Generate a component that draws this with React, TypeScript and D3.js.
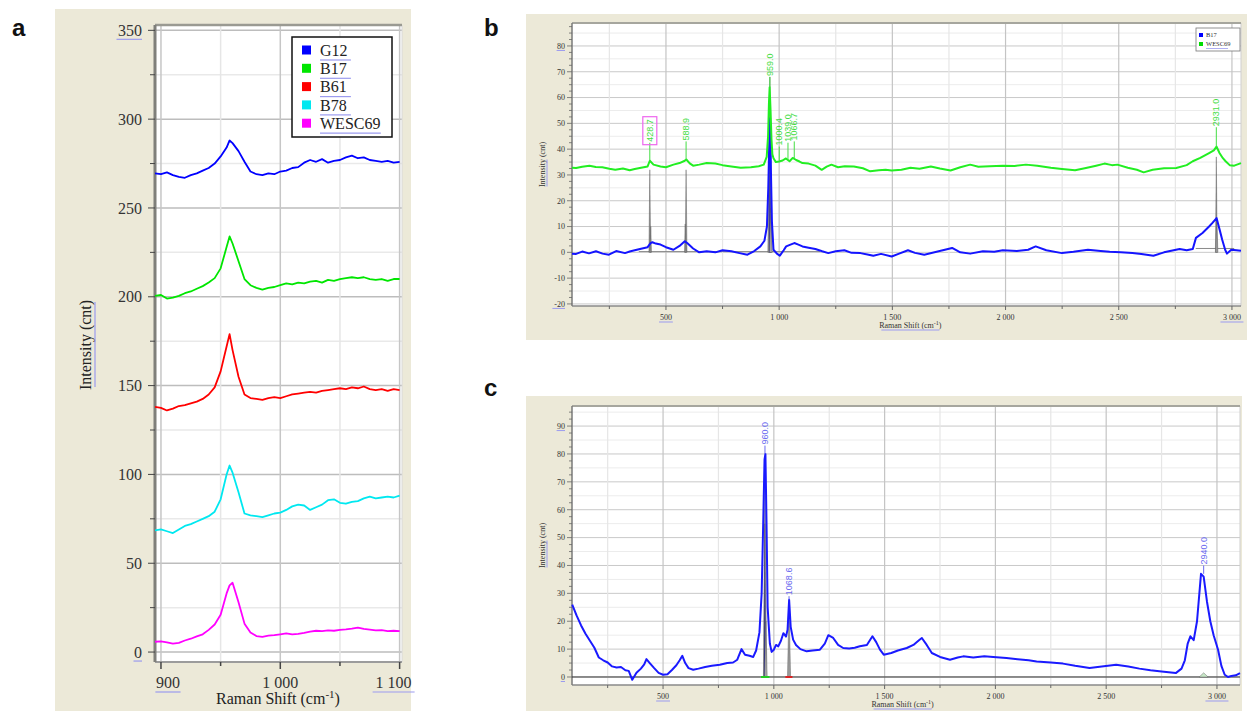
import React from 'react';
import * as d3 from 'd3';

const BEIGE = '#ece9d8';
const ULINE = '#9b9bef';
const SERIF = '"Liberation Serif", "Times New Roman", serif';
const SANS = '"Liberation Sans", Arial, sans-serif';

type Pt = [number, number];

// ---------- panel a : 900-1100 cm-1 window, five samples stacked
const aShift = [895, 900, 905, 910, 915, 920, 925, 930, 935, 940, 945, 950, 955, 957.5, 960, 965, 970, 975, 980, 985, 990, 995,
  1000, 1005, 1010, 1015, 1020, 1025, 1030, 1035, 1040, 1045, 1050, 1055, 1060, 1065, 1070, 1075, 1080, 1085, 1090, 1095, 1100];
const aG12 = [269.5, 269, 270, 268.5, 267.5, 267, 268.5, 269.5, 271, 272.5, 275, 279, 284, 288, 286.5, 282, 276, 270.5, 269, 268.5,
  269.5, 269, 270.5, 271, 272.5, 273, 275.5, 277, 276, 277.5, 275.5, 276.5, 277, 278.5, 279.5, 278, 278.5, 277, 276.5, 276, 276.5, 275.5, 276];
const aB17 = [200.5, 201, 199, 199.5, 200.5, 202, 203, 204.5, 206, 208, 210.5, 216, 228, 234, 230, 220, 210, 206.5, 205, 204,
  205, 205.5, 206.5, 207.5, 207, 208, 207.5, 208.5, 209, 208, 209.5, 209, 210, 210.5, 211, 210.5, 211, 210, 209.5, 210, 209, 210, 210];
const aB61 = [138, 137.5, 136, 137, 138.5, 139, 140, 141, 142.5, 145, 149, 158, 172, 179, 170, 155, 145, 143, 142.5, 142,
  143, 143.5, 143, 144, 145, 145.5, 146, 146.5, 146, 147, 147.5, 148, 148.5, 148, 149, 148.5, 149.5, 148, 147.5, 148, 147, 148, 147.5];
const aB78 = [68.5, 69, 68, 67, 69, 71, 72, 73.5, 75, 76.5, 79, 86, 100, 105, 101, 90, 78, 77, 76.5, 76,
  77, 78, 78.5, 80, 82, 83, 82.5, 80, 81.5, 83, 85.5, 86, 84, 83.5, 84.5, 85, 86.5, 87.5, 86.5, 87, 87.5, 87, 88];
const aWESC69 = [5.8, 6, 5.5, 4.8, 5.2, 6.5, 7.5, 8.8, 10, 12.5, 15.5, 21, 33, 37.5, 39, 28, 16, 11, 9, 8.6,
  9.2, 9.5, 10, 10.5, 10, 10.2, 10.8, 11.5, 12, 11.8, 12.2, 12, 12.5, 12.8, 13.2, 13.8, 13, 12.6, 12.2, 12.4, 11.8, 12, 11.8];
const aSeries = [
  { name: 'G12', color: '#0000ff', values: aG12 },
  { name: 'B17', color: '#00e600', values: aB17 },
  { name: 'B61', color: '#ff0000', values: aB61 },
  { name: 'B78', color: '#00e8f0', values: aB78 },
  { name: 'WESC69', color: '#ff00ff', values: aWESC69 },
];

// ---------- panel b : B17 vs WESC69, full range
const bWESC69: Pt[] = [[85, 32.8], [103, 32.7], [130, 33.2], [162, 33.6], [190, 33.1], [219, 33], [250, 32.4], [276, 32], [310, 32.5],
  [340, 31.8], [362, 32.3], [390, 32.8], [419, 33.3], [428.7, 35.5], [445, 34], [476, 33.3], [500, 33], [533, 34], [560, 34.6],
  [583, 35.5], [590, 36], [605, 34.5], [620, 33.6], [647, 34], [680, 34.6], [718, 34.4], [750, 33.8], [789, 33.3], [830, 32.8],
  [875, 33], [910, 33.4], [932, 34], [945, 37], [951, 45], [955, 58], [958, 64], [962, 55], [966, 44], [970, 38], [975, 36.5],
  [985, 35], [1000, 35.2], [1015, 35.6], [1030, 36.4], [1046, 35.3], [1060, 36.6], [1075, 35.8], [1090, 35.2], [1103, 34.6],
  [1130, 34.4], [1160, 33.6], [1188, 32], [1210, 33.2], [1231, 34], [1260, 33], [1290, 33.4], [1330, 33.3], [1370, 32.6],
  [1402, 31.4], [1440, 31.8], [1470, 32], [1497, 31.7], [1540, 32], [1580, 32.8], [1620, 32.4], [1670, 33.3], [1710, 32.5],
  [1757, 31.7], [1800, 33], [1844, 34], [1880, 33.2], [1930, 33.4], [1988, 33.6], [2040, 33.5], [2090, 34], [2140, 33.6],
  [2200, 32.8], [2249, 32.3], [2307, 31.8], [2350, 32.6], [2400, 33.6], [2437, 34.4], [2470, 33.8], [2494, 34], [2540, 32.8],
  [2580, 32], [2610, 31], [2650, 32], [2700, 32.6], [2754, 32.7], [2800, 33.8], [2827, 35.3], [2860, 36.6], [2899, 38.5],
  [2920, 39.5], [2932, 41], [2945, 38.5], [2960, 36.5], [2972, 35.3], [2990, 33.8], [3010, 33.6], [3040, 34.6]];
const bB17: Pt[] = [[85, -0.5], [103, -0.6], [130, 0.3], [160, -0.4], [191, 0.4], [220, -0.5], [248, -0.9], [280, 0.5], [319, -0.3],
  [340, 0.3], [362, 0.8], [390, 1.4], [419, 2], [432, 3.6], [440, 3.9], [455, 3.4], [476, 3], [500, 2], [533, 1], [560, 2.5],
  [583, 4.3], [595, 3.5], [620, 1.5], [647, 0], [680, 0.4], [718, 0], [750, 0.8], [789, 0.4], [820, -0.2], [860, -0.9],
  [890, 0.5], [917, 2.3], [935, 4.5], [946, 10], [952, 25], [957, 45], [960, 52], [964, 30], [968, 12], [975, 1], [990, -0.5],
  [1003, -1.3], [1020, 0.8], [1031, 2.3], [1050, 3], [1067, 3.6], [1085, 3], [1103, 2.3], [1130, 1.8], [1160, 1.3], [1190, 0.4],
  [1217, -0.3], [1250, 0.4], [1288, 0.8], [1320, -0.2], [1359, -0.3], [1390, -0.8], [1416, -1.3], [1450, -0.6], [1497, -1.6],
  [1530, -0.5], [1569, 0.8], [1600, -0.2], [1641, -0.9], [1700, 0.3], [1764, 1.7], [1800, 0], [1844, -0.5], [1900, 0.4],
  [1950, 0.2], [1988, 0.8], [2050, 0.5], [2100, 1], [2133, 2.3], [2180, 0.8], [2249, -0.3], [2300, 0.2], [2364, 1], [2420, 0.5],
  [2460, 0.2], [2509, 0], [2560, -0.3], [2600, -0.6], [2653, -1.3], [2700, 0], [2769, 1.3], [2800, 0.8], [2827, 1.3], [2841, 5.6],
  [2870, 7.5], [2899, 10], [2915, 11.5], [2932, 13.3], [2945, 9], [2957, 4.9], [2970, 1], [2978, -0.5], [2997, 1], [3020, 0.8], [3040, 0.6]];
const bPeaks = [
  { pos: 428.7, label: '428.7', from: 35.5, to: 42.5, boxed: true },
  { pos: 588.9, label: '588.9', from: 36, to: 43, boxed: false },
  { pos: 959.0, label: '959.0', from: 64, to: 68, boxed: false },
  { pos: 1000.4, label: '1000.4', from: 35.2, to: 41, boxed: false },
  { pos: 1039.0, label: '1039.0', from: 36, to: 42.5, boxed: false },
  { pos: 1066.7, label: '1066.7', from: 36.4, to: 43, boxed: false },
  { pos: 2931.0, label: '2931.0', from: 41, to: 48.5, boxed: false },
];
const bFits = [
  { pos: 428.7, h: 32, w: 4, fill: '#8c8c8c' },
  { pos: 433, h: 10, w: 3, fill: '#9a9a9a' },
  { pos: 588.9, h: 32, w: 4, fill: '#8c8c8c' },
  { pos: 585, h: 11, w: 3, fill: '#9a9a9a' },
  { pos: 959, h: 68, w: 9, fill: '#9a9a9a' },
  { pos: 959, h: 52, w: 4, fill: '#2a2ab0' },
  { pos: 963, h: 17, w: 6, fill: '#a8a8a8' },
  { pos: 2931, h: 37, w: 4, fill: '#8c8c8c' },
  { pos: 2933, h: 13, w: 5, fill: '#a0a0a0' },
];
const bBaselines: Pt[][] = [[[380, 0.3], [1180, 0.3]], [[2840, 1.5], [3010, 1.5]]];
const bLegend = [{ name: 'B17', color: '#0000ff' }, { name: 'WESC69', color: '#00dd00' }];

// ---------- panel c : single spectrum
const cSpectrum: Pt[] = [[90, 26], [110, 22], [130, 18.5], [150, 15.5], [170, 13], [190, 10.5], [210, 7], [230, 6], [250, 5.2],
  [270, 3.8], [290, 3.4], [310, 3.6], [330, 2.4], [345, 2.2], [361, -1], [380, 1.5], [400, 3], [415, 4.5], [425, 6.4], [440, 5],
  [460, 3.2], [480, 1.5], [500, 0.8], [520, 1], [540, 2.5], [560, 4.2], [575, 6], [587, 7.6], [600, 5], [615, 3.2], [636, 2.6],
  [660, 3], [690, 3.6], [720, 4], [756, 4.4], [790, 5], [816, 5.2], [835, 6.2], [854, 10], [870, 8], [890, 7.6], [907, 7.2],
  [920, 9.5], [935, 16], [945, 30], [952, 55], [958, 78], [962, 80], [967, 55], [972, 25], [982, 12], [990, 9], [1000, 9.8],
  [1010, 11.5], [1020, 11], [1032, 13], [1043, 15.7], [1055, 14.5], [1062, 17], [1069, 27.7], [1076, 18], [1087, 13.4],
  [1100, 11.5], [1120, 10], [1148, 9.2], [1175, 9.5], [1208, 9.8], [1230, 12], [1246, 15], [1268, 14], [1290, 11.5],
  [1313, 10.4], [1340, 10.2], [1365, 10.5], [1388, 11], [1420, 11.5], [1445, 14.6], [1462, 12.5], [1479, 9.8], [1496, 8],
  [1530, 8.6], [1560, 9.5], [1600, 10.4], [1630, 11.5], [1655, 13.2], [1668, 14], [1690, 11.5], [1713, 8.6], [1750, 7.2],
  [1795, 6.2], [1830, 7], [1855, 7.4], [1900, 7], [1950, 7.4], [1990, 7.2], [2050, 6.8], [2100, 6.4], [2150, 6], [2186, 5.6],
  [2250, 5.2], [2305, 4.8], [2360, 4], [2425, 3.2], [2480, 3.8], [2545, 4.4], [2600, 3.8], [2650, 3], [2700, 2.4], [2750, 2],
  [2814, 1.4], [2840, 3], [2855, 6], [2868, 12], [2880, 14.6], [2895, 13.2], [2910, 20], [2928, 37], [2940, 36], [2955, 27],
  [2970, 20], [2985, 15], [3005, 9.8], [3020, 4], [3035, 0.8], [3050, 0], [3065, 0.4], [3085, 0.6], [3104, 1.4]];
const cPeaks = [
  { pos: 960.0, label: '960.0', from: 80, to: 83, boxed: false },
  { pos: 1068.6, label: '1068.6', from: 27.7, to: 29, boxed: false },
  { pos: 2940.0, label: '2940.0', from: 37, to: 40, boxed: false },
];
const cFits = [
  { pos: 960, h: 79, w: 7, fill: '#9a9a9a' },
  { pos: 959, h: 55, w: 4, fill: '#26269a' },
  { pos: 964, h: 20, w: 6, fill: '#a8a8a8' },
  { pos: 1068.6, h: 27, w: 7, fill: '#9a9a9a' },
  { pos: 2940, h: 1.5, w: 20, fill: '#c8e8c8' },
];
const cRegions = [{ from: 942, to: 980, color: '#22cc22' }, { from: 1052, to: 1084, color: '#dd2222' }];

const fmtShift = (v: number) => (Math.abs(v) >= 1000 ? d3.format(',')(v).replace(/,/g, ' ') : String(v));

function PanelA() {
  const plot = { left: 155, right: 402, top: 25, bottom: 662 };
  const x = d3.scaleLinear().domain([895, 1102]).range([plot.left, plot.right]);
  const y = d3.scaleLinear().domain([-5.6, 353]).range([plot.bottom, plot.top]);
  const line = d3.line<number>().x((_, i) => x(aShift[i])).y(d => y(d));
  const yGrid = d3.range(0, 351, 25);
  const xGrid = d3.range(900, 1101, 50);
  const yLabels = d3.range(0, 351, 50);
  const xLabels = [900, 1000, 1100];
  const uly = new Set([350, 0]);
  const ulx = new Set([900, 1100]);
  return (
    <g>
      <rect x={55} y={9} width={356} height={702} fill={BEIGE} />
      <rect x={plot.left} y={plot.top} width={plot.right - plot.left} height={plot.bottom - plot.top} fill="#fff" />
      {yGrid.map(v => (
        <line key={'gy' + v} x1={plot.left} x2={plot.right} y1={y(v)} y2={y(v)}
          stroke={v % 50 === 0 ? '#bdbdbd' : '#e9e9e9'} strokeWidth={1.5} />
      ))}
      {xGrid.map(v => (
        <line key={'gx' + v} x1={x(v)} x2={x(v)} y1={plot.top} y2={plot.bottom}
          stroke={v % 100 === 0 ? '#c6c6c6' : '#e6e6e6'} strokeWidth={1.5} />
      ))}
      <line x1={plot.right} x2={plot.right} y1={plot.top} y2={plot.bottom} stroke="#d8d8d8" />
      <line x1={plot.left} x2={plot.right} y1={plot.top} y2={plot.top} stroke="#9a9a92" strokeWidth={2.5} />
      <line x1={plot.left} x2={plot.right} y1={plot.bottom} y2={plot.bottom} stroke="#9c9c9c" strokeWidth={2} />
      <line x1={plot.left} x2={plot.left} y1={plot.top} y2={plot.bottom} stroke="#7f7f7a" strokeWidth={3} />
      {yGrid.map(v => (
        <line key={'ty' + v} x1={plot.left - (v % 50 === 0 ? 7 : 5)} x2={plot.left} y1={y(v)} y2={y(v)} stroke="#444" />
      ))}
      {xGrid.map(v => (
        <line key={'tx' + v} x1={x(v)} x2={x(v)} y1={plot.bottom} y2={plot.bottom + (v % 100 === 0 ? 7 : 4)} stroke="#444" strokeWidth={1.5} />
      ))}
      {yLabels.map(v => (
        <g key={'ly' + v}>
          <text x={142} y={y(v)} dy="0.35em" textAnchor="end" fontFamily={SERIF} fontSize={16} fill="#333">{v}</text>
          {uly.has(v) && <line x1={142 - String(v).length * 8.5} x2={142} y1={y(v) + 9} y2={y(v) + 9} stroke={ULINE} strokeWidth={1.2} />}
        </g>
      ))}
      {xLabels.map(v => (
        <g key={'lx' + v}>
          <text x={x(v) + (v === 900 ? 7 : v === 1100 ? -6 : 0)} y={688} textAnchor="middle" fontFamily={SERIF} fontSize={16} fill="#333">{fmtShift(v)}</text>
          {ulx.has(v) && <line x1={x(v) + (v === 900 ? 7 : -6) - fmtShift(v).length * 4.2} x2={x(v) + (v === 900 ? 7 : -6) + fmtShift(v).length * 4.2}
            y1={692} y2={692} stroke={ULINE} strokeWidth={1.2} />}
        </g>
      ))}
      <text x={278} y={704} textAnchor="middle" fontFamily={SERIF} fontSize={16} fill="#222">
        Raman Shift (cm<tspan dy={-6} fontSize={11}>-1</tspan><tspan dy={6}>)</tspan>
      </text>
      <text transform="translate(91,345) rotate(-90)" textAnchor="middle" fontFamily={SERIF} fontSize={16} fill="#222">Intensity (cnt)</text>
      <line x1={95} x2={95} y1={302} y2={387} stroke={ULINE} strokeWidth={1.2} />
      {aSeries.map(s => (
        <path key={s.name} d={line(s.values) || ''} fill="none" stroke={s.color} strokeWidth={1.8} strokeLinejoin="round" />
      ))}
      <rect x={292} y={37} width={100} height={100} fill="#fff" stroke="#111" strokeWidth={1.5} />
      {aSeries.map((s, i) => (
        <g key={'lg' + s.name} transform={`translate(302,${50 + i * 18.3})`}>
          <rect x={0} y={-4.5} width={9} height={9} fill={s.color} />
          <text x={18} y={0} dy="0.35em" fontFamily={SERIF} fontSize={16} fill="#222">{s.name}</text>
          <line x1={18} x2={18 + s.name.length * 10.3 - (s.name.length > 3 ? 1 : 0)} y1={10} y2={10} stroke={ULINE} strokeWidth={1.2} />
        </g>
      ))}
    </g>
  );
}

function SpectrumPanel(props: any) {
  const { box, plot, xDomain, yDomain, yTickRange, series, fits, peaks, peakColor, baselines, regions, zeroLine, legend, labelBase, titleBase } = props;
  const x = d3.scaleLinear().domain(xDomain).range([plot.left, plot.right]);
  const y = d3.scaleLinear().domain(yDomain).range([plot.bottom, plot.top]);
  const line = d3.line<Pt>().x(d => x(d[0])).y(d => y(d[1]));
  const [y0, y1] = yTickRange;
  const yMajor = d3.range(y0, y1 + 1, 10);
  const yMinorGrid = d3.range(y0 - 5, y1 + 6, 10).filter(v => y(v) > plot.top && y(v) < plot.bottom);
  const yTicks = d3.range(y0, y1 + 0.1, 2.5).concat(d3.range(y1 + 2.5, yDomain[1], 2.5));
  const xMajor = d3.range(500, 3001, 500);
  const xAll = d3.range(250, 3001, 250).filter(v => v > xDomain[0]);
  const fs = 8;
  const titleX = x(1500) + 18;
  return (
    <g>
      <rect x={box.x} y={box.y} width={box.w} height={box.h} fill={BEIGE} />
      <rect x={plot.left} y={plot.top} width={plot.right - plot.left} height={plot.bottom - plot.top} fill="#fff" />
      {yMinorGrid.map(v => (
        <line key={'gm' + v} x1={plot.left} x2={plot.right} y1={y(v)} y2={y(v)} stroke="#ececec" />
      ))}
      {yMajor.map(v => (
        <line key={'gy' + v} x1={plot.left} x2={plot.right} y1={y(v)} y2={y(v)} stroke="#c9c9c9" />
      ))}
      {xAll.map(v => (
        <line key={'gx' + v} x1={x(v)} x2={x(v)} y1={plot.top} y2={plot.bottom} stroke={v % 500 === 0 ? '#c4c4c4' : '#e6e6e6'} strokeWidth={1.2} />
      ))}
      <line x1={plot.right} x2={plot.right} y1={plot.top} y2={plot.bottom} stroke="#cfcfcf" />
      <line x1={plot.left} x2={plot.right} y1={plot.top} y2={plot.top} stroke="#a6a69e" strokeWidth={2} />
      <line x1={plot.left} x2={plot.right} y1={plot.bottom} y2={plot.bottom} stroke="#8a8a8a" strokeWidth={1.5} />
      <line x1={plot.left} x2={plot.left} y1={plot.top} y2={plot.bottom} stroke="#7a7a7a" strokeWidth={1.5} />
      {yTicks.map(v => (
        <line key={'ty' + v} x1={plot.left - (v % 10 === 0 ? 5 : 3)} x2={plot.left} y1={y(v)} y2={y(v)} stroke="#666" strokeWidth={0.8} />
      ))}
      {xAll.map(v => (
        <line key={'tx' + v} x1={x(v)} x2={x(v)} y1={plot.bottom} y2={plot.bottom + (v % 500 === 0 ? 4 : 3)} stroke="#666" />
      ))}
      {yMajor.map(v => (
        <g key={'ly' + v}>
          <text x={plot.left - 7} y={y(v)} dy="0.35em" textAnchor="end" fontFamily={SERIF} fontSize={fs} fill="#333">{v}</text>
          {(v === y0 || v === y1) && <line x1={plot.left - 7 - String(v).length * 4.2} x2={plot.left - 7} y1={y(v) + 4.5} y2={y(v) + 4.5} stroke={ULINE} />}
        </g>
      ))}
      {xMajor.map(v => (
        <g key={'lx' + v}>
          <text x={x(v)} y={labelBase} textAnchor="middle" fontFamily={SERIF} fontSize={fs} fill="#333">{fmtShift(v)}</text>
          {(v === 500 || v === 3000) && <line x1={x(v) - fmtShift(v).length * 2.3} x2={x(v) + fmtShift(v).length * 2.3} y1={labelBase + 2} y2={labelBase + 2} stroke={ULINE} />}
        </g>
      ))}
      <text x={titleX} y={titleBase} textAnchor="middle" fontFamily={SERIF} fontSize={fs} fill="#333">
        Raman Shift (cm<tspan dy={-3} fontSize={6}>-1</tspan><tspan dy={3}>)</tspan>
      </text>
      <line x1={titleX - 29} x2={titleX + 29} y1={titleBase + 2} y2={titleBase + 2} stroke={ULINE} />
      <text transform={`translate(545,${(plot.top + plot.bottom) / 2}) rotate(-90)`} textAnchor="middle" fontFamily={SERIF} fontSize={fs} fill="#333">Intensity (cnt)</text>
      <line x1={547} x2={547} y1={(plot.top + plot.bottom) / 2 - 5} y2={(plot.top + plot.bottom) / 2 + 22} stroke={ULINE} />
      {zeroLine && <line x1={plot.left} x2={plot.right} y1={y(0)} y2={y(0)} stroke="#333" strokeWidth={1} />}
      {(baselines || []).map((b: Pt[], i: number) => (
        <path key={'bl' + i} d={line(b) || ''} fill="none" stroke="#8a8a8a" strokeWidth={1} />
      ))}
      {fits.map((f: any, i: number) => (
        <path key={'fit' + i}
          d={`M${x(f.pos - f.w)},${y(0)}L${x(f.pos)},${y(f.h)}L${x(f.pos + f.w)},${y(0)}Z`}
          fill={f.fill} stroke="#555" strokeWidth={0.6} strokeOpacity={0.7} />
      ))}
      {series.map((s: any) => (
        <path key={s.name} d={line(s.values) || ''} fill="none" stroke={s.color} strokeWidth={2} strokeLinejoin="round" />
      ))}
      {(regions || []).map((r: any, i: number) => (
        <line key={'rg' + i} x1={x(r.from)} x2={x(r.to)} y1={y(0)} y2={y(0)} stroke={r.color} strokeWidth={2} />
      ))}
      {peaks.map((p: any) => (
        <g key={p.label}>
          <line x1={x(p.pos)} x2={x(p.pos)} y1={y(p.from)} y2={y(p.to)} stroke={peakColor} strokeWidth={1} />
          <text transform={`translate(${x(p.pos)},${y(p.to) - 1}) rotate(-90)`} dy="0.35em" fontFamily={SANS} fontSize={9} fill={peakColor}>{p.label}</text>
          {p.boxed && <rect x={x(p.pos) - 7} y={y(p.to) - 26} width={14} height={28} fill="none" stroke="#ee66ee" strokeWidth={1.2} />}
        </g>
      ))}
      {legend && (
        <g>
          <rect x={plot.right - 45} y={plot.top + 5} width={44} height={23} fill="#fff" stroke="#777" strokeWidth={0.8} />
          {legend.map((l: any, i: number) => (
            <g key={l.name} transform={`translate(${plot.right - 42},${plot.top + 12 + i * 9})`}>
              <rect x={0} y={-2} width={4} height={4} fill={l.color} />
              <text x={7} y={0} dy="0.35em" fontFamily={SERIF} fontSize={6.5} fill="#333">{l.name}</text>
            </g>
          ))}
          <line x1={plot.right - 35} x2={plot.right - 13} y1={plot.top + 25.5} y2={plot.top + 25.5} stroke={ULINE} strokeWidth={0.8} />
        </g>
      )}
    </g>
  );
}

export default function App() {
  return (
    <svg width={1249} height={711} style={{ position: 'absolute', left: 0, top: 0, display: 'block' }}>
      <rect x={0} y={0} width={1249} height={711} fill="#fff" />
      <PanelA />
      <SpectrumPanel
        box={{ x: 526, y: 14, w: 721, h: 326 }}
        plot={{ left: 572, right: 1241, top: 23, bottom: 306 }}
        xDomain={[85, 3040]} yDomain={[-20.8, 88.9]} yTickRange={[-20, 80]}
        series={[{ name: 'B17', color: '#1414ff', values: bB17 }, { name: 'WESC69', color: '#22ee22', values: bWESC69 }]}
        fits={bFits} peaks={bPeaks} peakColor="#44dd44" baselines={bBaselines}
        legend={bLegend} labelBase={320} titleBase={328} />
      <SpectrumPanel
        box={{ x: 526, y: 396, w: 716, h: 315 }}
        plot={{ left: 572, right: 1240, top: 406, bottom: 685 }}
        xDomain={[89, 3104]} yDomain={[-2.87, 97.2]} yTickRange={[0, 90]}
        series={[{ name: 'spectrum', color: '#1a1aff', values: cSpectrum }]}
        fits={cFits} peaks={cPeaks} peakColor="#6a6af0" regions={cRegions} zeroLine
        labelBase={699} titleBase={707} />
      <text x={12} y={36} fontFamily={SANS} fontWeight="bold" fontSize={24} fill="#111">a</text>
      <text x={484} y={36} fontFamily={SANS} fontWeight="bold" fontSize={24} fill="#111">b</text>
      <text x={484} y={396} fontFamily={SANS} fontWeight="bold" fontSize={24} fill="#111">c</text>
    </svg>
  );
}
